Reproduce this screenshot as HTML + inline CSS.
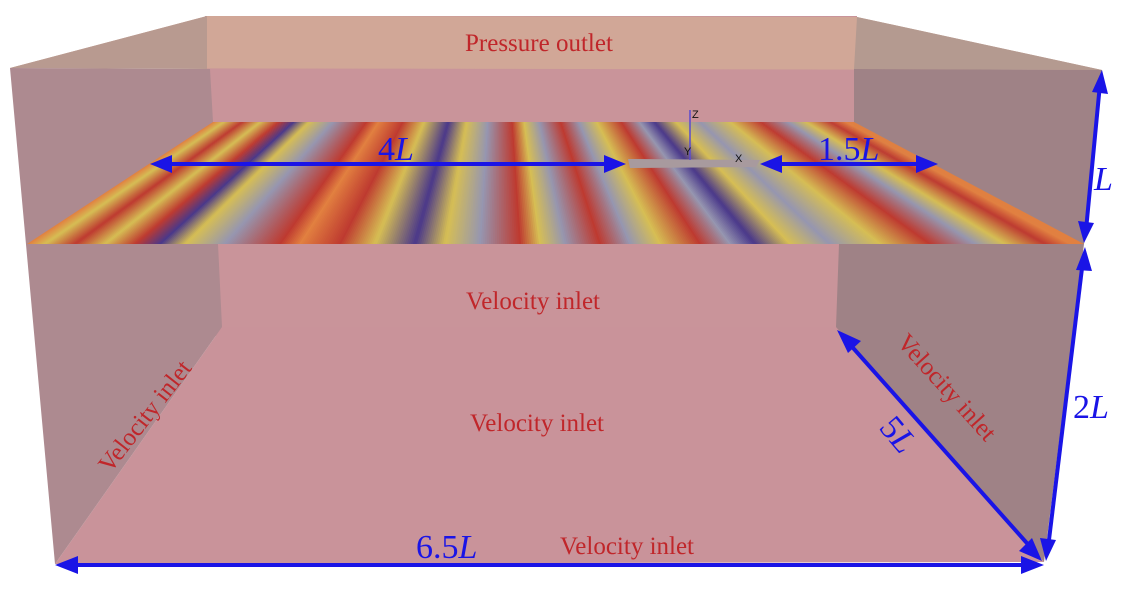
<!DOCTYPE html>
<html><head><meta charset="utf-8"><style>
html,body{margin:0;padding:0;background:#fff;width:1139px;height:589px;overflow:hidden}
svg{display:block}
text{font-family:"Liberation Serif",serif}
</style></head><body>
<svg id="s" width="1139" height="589" viewBox="0 0 1139 589" xmlns="http://www.w3.org/2000/svg">
<rect x="205" y="16" width="652" height="320" fill="#c9949a"/>
<polygon points="222,327 836,327 1044,562 55,564" fill="#c9939a"/>
<polygon points="207,16 857,17 1102,70 10,68" fill="#d1a797"/>
<polygon points="207,16 207,69 10,68" fill="#b89a90"/>
<polygon points="857,17 854,69 1102,70" fill="#b49a90"/>
<polygon points="10,68 210,69 213,122 218,244 222,327 55,564" fill="#ad8a90"/>
<polygon points="854,69 1102,70 1084,244 1044,562 836,327 839,244 854,122" fill="#9f8286"/>
<g id="water"></g>
<polygon points="628,159 760,160 756,167 630,168" fill="#a89a9e"/>
<line x1="690" y1="160" x2="690" y2="110" stroke="#5a4ad0" stroke-width="1.5"/>
<text x="692" y="118" font-size="11" fill="#111" style="font-family:'Liberation Sans',sans-serif">Z</text>
<text x="684" y="155" font-size="11" fill="#111" style="font-family:'Liberation Sans',sans-serif">Y</text>
<text x="735" y="162" font-size="11" fill="#111" style="font-family:'Liberation Sans',sans-serif">X</text>
<g stroke="#1a14e6" stroke-width="4" fill="none">
<line x1="162" y1="164" x2="614" y2="164"/>
<line x1="772" y1="164" x2="926" y2="164"/>
<line x1="1100" y1="84" x2="1086" y2="230"/>
<line x1="1083" y1="260" x2="1048" y2="548"/>
<line x1="846" y1="340" x2="1033" y2="550"/>
<line x1="68" y1="565" x2="1030" y2="565"/>
</g>
<g fill="#1a14e6">
<polygon points="150,164 172,155 172,173"/>
<polygon points="626,164 604,155 604,173"/>
<polygon points="760,164 782,155 782,173"/>
<polygon points="938,164 916,155 916,173"/>
<polygon points="1102,70 1092,92 1108,94"/>
<polygon points="1084,243 1078,221 1094,223"/>
<polygon points="1085,247 1076,270 1092,271"/>
<polygon points="1046,561 1040,538 1056,540"/>
<polygon points="837,330 848,353 861,341"/>
<polygon points="1042,561 1019,551 1032,538"/>
<polygon points="55,565 78,556 78,574"/>
<polygon points="1044,565 1021,556 1021,574"/>
</g>
<g fill="#1a14e6" font-size="34">
<text x="378" y="160">4<tspan font-style="italic">L</tspan></text>
<text x="818" y="160">1.5<tspan font-style="italic">L</tspan></text>
<text x="1094" y="190" font-style="italic">L</text>
<text x="1073" y="418">2<tspan font-style="italic">L</tspan></text>
<text x="416" y="558">6.5<tspan font-style="italic">L</tspan></text>
<text x="0" y="0" transform="translate(878,428) rotate(50)">5<tspan font-style="italic">L</tspan></text>
</g>
<g fill="#c0262a" font-size="25">
<text x="465" y="51">Pressure outlet</text>
<text x="466" y="309">Velocity inlet</text>
<text x="470" y="431">Velocity inlet</text>
<text x="560" y="554">Velocity inlet</text>
<text x="0" y="0" transform="translate(110,474) rotate(-52)">Velocity inlet</text>
<text x="0" y="0" transform="translate(896,343) rotate(48)">Velocity inlet</text>
</g>
</svg>
<script>
(function(){
var C={o:[226,128,64],y:[214,190,84],r:[190,58,48],p:[74,56,138],g:[150,150,176]};
var stops=[[27,'o'],[45,'y'],[75,'r'],[105,'y'],[135,'r'],[160,'p'],[185,'y'],[225,'g'],[280,'r'],[300,'o'],[340,'r'],[375,'y'],[415,'p'],[445,'y'],[480,'g'],[520,'r'],[540,'y'],[565,'g'],[600,'r'],[630,'g'],[660,'y'],[700,'r'],[730,'g'],[755,'p'],[790,'y'],[830,'g'],[880,'y'],[930,'r'],[975,'g'],[1005,'y'],[1045,'r'],[1070,'o'],[1086,'o']];
function col(x){for(var i=0;i<stops.length-1;i++){if(x<=stops[i+1][0]){var a=stops[i],b=stops[i+1],t=(x-a[0])/(b[0]-a[0]);var ca=C[a[1]],cb=C[b[1]];return 'rgb('+ca.map(function(v,k){return Math.round(v+(cb[k]-v)*t)}).join(',')+')';}}return 'rgb(226,128,64)';}
var g=document.getElementById('water'),h='';
var fx0=27,fx1=1084,bx0=213,bx1=854;
for(var x=fx0;x<fx1;x+=2){var t0=(x-fx0)/(fx1-fx0),t1=Math.min(1,(x+2.5-fx0)/(fx1-fx0));
var b0=bx0+t0*(bx1-bx0),b1=bx0+t1*(bx1-bx0),f1=fx0+t1*(fx1-fx0);
h+='<polygon points="'+b0+',122 '+b1+',122 '+f1+',244 '+x+',244" fill="'+col(x+1)+'"/>';}
g.innerHTML=h;
})();
</script>
</body></html>
